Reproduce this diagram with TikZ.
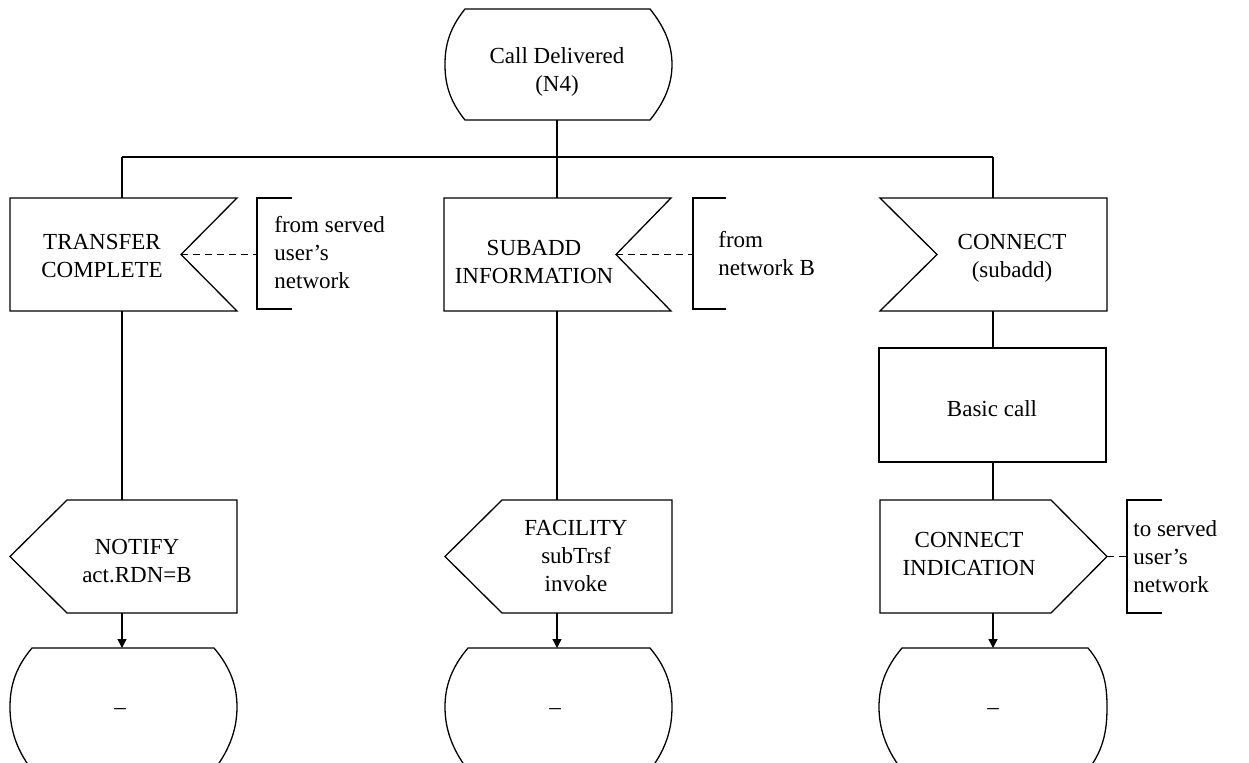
\documentclass[tikz,border=0pt]{standalone}
\usepackage{fontspec}
\setmainfont{Liberation Serif}
\usetikzlibrary{arrows.meta}
\tikzset{
  ln/.style={line width=0.65pt},
  txt/.style={align=center, font=\fontsize{11.5}{14}\selectfont, inner sep=0pt},
  cmt/.style={align=left, font=\fontsize{11.5}{14}\selectfont, inner sep=0pt, anchor=west},
  flow/.style={ln, -{Triangle[length=4.5pt,width=4.5pt]}},
  dsh/.style={ln, dash pattern=on 3.5pt off 2.5pt},
}
\begin{document}
\begin{tikzpicture}[x=0.5pt,y=-0.5pt, line join=miter]
\useasboundingbox (0,0) rectangle (1249,762);

% ---------- top state ----------
\draw[ln] (465,9) -- (650,9) .. controls (667,30) and (672,48) .. (672,64.5)
  .. controls (672,81) and (667,99) .. (650,120) -- (465,120)
  .. controls (448,99) and (445,81) .. (445,64.5)
  .. controls (445,48) and (448,30) .. (465,9) -- cycle;
\node[txt] (s0) at (557,72) {Call Delivered\\(N4)};
\coordinate (s0b) at (557,120);

% bus
\coordinate (j1) at (122,157);
\coordinate (j2) at (557,157);
\coordinate (j3) at (993,157);
\draw[ln] (s0b) -- (j2);
\draw[ln] (j1) -- (j3);

% ---------- column 1 ----------
\draw[ln] (10,198) -- (237,198) -- (181,254.5) -- (237,311) -- (10,311) -- cycle;
\node[txt] (i1) at (102,256) {TRANSFER\\COMPLETE};
\coordinate (i1t) at (122,198);
\coordinate (i1b) at (122,311);
\coordinate (i1n) at (181,254.5);
\draw[ln] (292,198) -- (257,198) -- (257,309) -- (292,309);
\coordinate (c1) at (257,254.5);
\node[cmt] (c1t) at (274,253) {from served\\user’s\\network};
\draw[dsh] (i1n) -- (c1);

\draw[ln] (67,500) -- (237,500) -- (237,613) -- (67,613) -- (10,556.5) -- cycle;
\node[txt] (o1) at (137,561) {NOTIFY\\act.RDN=B};
\coordinate (o1t) at (122,500);
\coordinate (o1b) at (122,613);

\draw[ln] (32,770) .. controls (15,748) and (10,727) .. (10,707)
  .. controls (10,687) and (15,668) .. (32,648) -- (214,648)
  .. controls (231,668) and (237,687) .. (237,707)
  .. controls (237,727) and (231,748) .. (214,770);
\node[txt] (s1) at (120,712) {–};
\coordinate (s1t) at (122,648);

\draw[ln] (j1) -- (i1t);
\draw[ln] (i1b) -- (o1t);
\draw[flow] (o1b) -- (s1t);

% ---------- column 2 ----------
\draw[ln] (444,198) -- (671,198) -- (616,254.5) -- (671,311) -- (444,311) -- cycle;
\node[txt] (i2) at (534,262) {SUBADD\\INFORMATION};
\coordinate (i2t) at (557,198);
\coordinate (i2b) at (557,311);
\coordinate (i2n) at (616,254.5);
\draw[ln] (726,198) -- (693,198) -- (693,309) -- (726,309);
\coordinate (c2) at (693,254.5);
\node[cmt] (c2t) at (718,254) {from\\network B};
\draw[dsh] (i2n) -- (c2);

\draw[ln] (502,500) -- (672,500) -- (672,613) -- (502,613) -- (445,556.5) -- cycle;
\node[txt] (o2) at (576,556) {FACILITY\\subTrsf\\invoke};
\coordinate (o2t) at (557,500);
\coordinate (o2b) at (557,613);

\draw[ln] (468,770) .. controls (451,748) and (445,727) .. (445,707)
  .. controls (445,687) and (451,668) .. (468,648) -- (650,648)
  .. controls (667,668) and (672,687) .. (672,707)
  .. controls (672,727) and (667,748) .. (650,770);
\node[txt] (s2) at (555,712) {–};
\coordinate (s2t) at (557,648);

\draw[ln] (j2) -- (i2t);
\draw[ln] (i2b) -- (o2t);
\draw[flow] (o2b) -- (s2t);

% ---------- column 3 ----------
\draw[ln] (880,198) -- (1107,198) -- (1107,311) -- (880,311) -- (937,254.5) -- cycle;
\node[txt] (i3) at (1012,258) {CONNECT\\(subadd)};
\coordinate (i3t) at (993,198);
\coordinate (i3b) at (993,311);

\draw[ln] (879,348) rectangle (1106,462);
\node[txt] (t3) at (992,409) {Basic call};
\coordinate (t3t) at (993,348);
\coordinate (t3b) at (993,462);

\draw[ln] (880,500) -- (1051,500) -- (1107,556.5) -- (1051,613) -- (880,613) -- cycle;
\node[txt] (o3) at (969,554) {CONNECT\\INDICATION};
\coordinate (o3t) at (993,500);
\coordinate (o3b) at (993,613);
\coordinate (o3p) at (1107,556.5);
\draw[ln] (1162,500) -- (1127,500) -- (1127,613) -- (1162,613);
\coordinate (c3) at (1127,556.5);
\node[cmt] (c3t) at (1133,557) {to served\\user’s\\network};
\draw[dsh] (o3p) -- (c3);

\draw[ln] (902,770) .. controls (885,748) and (879,727) .. (879,707)
  .. controls (879,687) and (885,668) .. (902,648) -- (1088,648)
  .. controls (1105,668) and (1107,687) .. (1107,707)
  .. controls (1107,727) and (1105,748) .. (1088,770);
\node[txt] (s3) at (993,712) {–};
\coordinate (s3t) at (993,648);

\draw[ln] (j3) -- (i3t);
\draw[ln] (i3b) -- (t3t);
\draw[ln] (t3b) -- (o3t);
\draw[flow] (o3b) -- (s3t);
\end{tikzpicture}
\end{document}
